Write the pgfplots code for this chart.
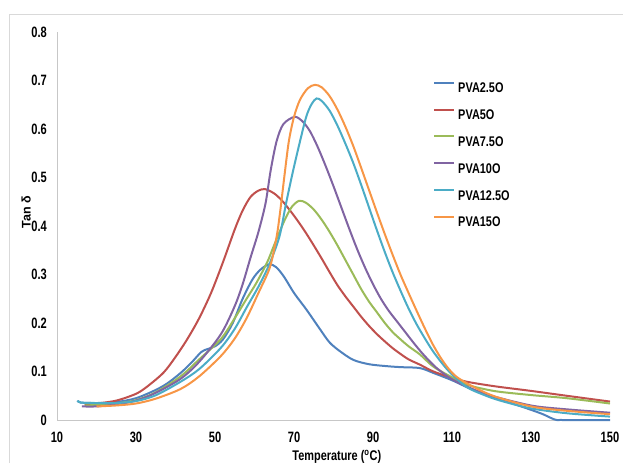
\documentclass[border=0pt]{standalone}
\usepackage{pgfplots}
\pgfplotsset{compat=1.18}
\usepackage{fontspec}
\setmainfont{Liberation Sans}[FakeStretch=0.78]
\newfontfamily\tickfont{Liberation Sans}[FakeStretch=0.74]
\newfontfamily\ylabfont{Liberation Sans}

\definecolor{sblue}{HTML}{4F81BD}
\definecolor{sred}{HTML}{C0504D}
\definecolor{sgreen}{HTML}{9BBB59}
\definecolor{spurple}{HTML}{8064A2}
\definecolor{scyan}{HTML}{4BACC6}
\definecolor{sorange}{HTML}{F79646}
\definecolor{frame}{HTML}{D9D9D9}

\begin{document}
\begin{tikzpicture}[x=1pt,y=1pt]
\useasboundingbox (0,0) rectangle (623,463);
\draw[frame, line width=1pt] (9.5,0) -- (9.5,448.5) -- (623,448.5);
\begin{axis}[
    at={(57pt,43pt)}, anchor=south west,
    scale only axis,
    width=553pt, height=388pt,
    xmin=10, xmax=150,
    ymin=0, ymax=0.8,
    clip=false,
    axis x line*=bottom,
    axis y line*=left,
    axis line style={draw=black!22, line width=1pt},
    xtick={10,30,50,70,90,110,130,150},
    ytick={0,0.1,0.2,0.3,0.4,0.5,0.6,0.7,0.8},
    major tick length=0pt,
    /pgf/number format/assume math mode=true,
    tick label style={font=\tickfont\fontsize{15}{17}\selectfont\bfseries},
    yticklabel style={/pgf/number format/fixed, /pgf/number format/precision=1,
        inner sep=0pt, anchor=east, xshift=-10pt},
    xticklabel style={inner sep=0pt, anchor=north, yshift=-12pt},
    xlabel={Temperature (\textsuperscript{o}C)},
    xlabel style={at={(axis description cs:0.506,-0.0946)}, anchor=center,
        font=\fontsize{14}{16}\selectfont\bfseries},
    ylabel={Tan δ},
    ylabel style={at={(axis description cs:-0.056,0.535)}, anchor=center,
        font=\ylabfont\fontsize{12.5}{14}\selectfont\bfseries},
    legend style={at={(axis description cs:0.680,0.872)}, anchor=north west,
        draw=none, fill=none, inner sep=0pt, row sep=15.8pt, column sep=3pt,
        font=\fontsize{14}{16}\selectfont\bfseries,
        nodes={inner sep=0pt, text height=10pt, text depth=0pt}},
    legend cell align=left,
    legend image code/.code={\draw[#1, line width=2pt] (0pt,5pt) -- (20pt,5pt);},
    every axis plot/.append style={line width=2pt, smooth},
]

% PVA2.5O
\addplot[color=sblue] coordinates {
(15.2,0.040)(16,0.036)(20,0.035)(25,0.037)(30,0.045)(35,0.062)(38,0.076)(41.3,0.097)
(44,0.118)(46.5,0.140)(48,0.146)(50,0.152)(52,0.166)(54.5,0.200)(57,0.250)(59.5,0.290)
(61.5,0.310)(63.7,0.321)(65.5,0.315)(67.5,0.295)(70,0.262)(73.2,0.227)(76.6,0.187)
(79,0.160)(81.6,0.142)(85,0.124)(89,0.115)(93.5,0.111)(97,0.109)(101.9,0.107)
(105.3,0.097)(110,0.082)(113.7,0.068)(118,0.054)(122.2,0.042)(126,0.032)(130,0.021)
(133,0.012)(136,0.001)(138,0)(150,0)
};
% PVA5O
\addplot[color=sred] coordinates {
(17,0.033)(20,0.034)(25,0.040)(30,0.054)(33,0.070)(37,0.098)(40,0.130)(43,0.167)
(46,0.210)(49,0.262)(52,0.325)(55,0.393)(57,0.432)(59,0.460)(61,0.473)(62.7,0.476)
(65,0.467)(67,0.452)(69,0.432)(71,0.410)(73,0.386)(75,0.360)(77,0.333)(79,0.305)
(81,0.278)(83,0.255)(85,0.234)(87,0.213)(89,0.194)(91,0.177)(93,0.162)(95,0.148)
(97,0.136)(99,0.125)(101.9,0.114)(105.3,0.100)(110,0.087)(113.7,0.079)(118,0.073)
(122.2,0.068)(130,0.060)(139,0.050)(150,0.038)
};
% PVA7.5O
\addplot[color=sgreen] coordinates {
(17,0.030)(20,0.031)(25,0.034)(30,0.041)(35,0.057)(41.3,0.090)(46,0.125)(51.5,0.167)
(55,0.210)(58,0.250)(60.5,0.283)(63.2,0.325)(64.7,0.355)(66.2,0.385)(67.8,0.415)
(69.5,0.440)(71.3,0.452)(73,0.448)(75,0.434)(77,0.413)(79,0.388)(81,0.360)(83,0.330)
(85,0.300)(87,0.270)(89,0.244)(91,0.222)(93,0.200)(95,0.181)(97,0.166)(99,0.152)
(101.9,0.135)(105.3,0.110)(110,0.088)(113.7,0.073)(118,0.064)(122.2,0.058)
(130.6,0.051)(139,0.045)(150,0.034)
};
% PVA10O
\addplot[color=spurple] coordinates {
(16.3,0.028)(20,0.028)(25,0.032)(30,0.040)(35,0.056)(41.3,0.085)(46,0.120)(51.5,0.177)
(55,0.235)(57,0.280)(59,0.335)(61,0.388)(62.8,0.447)(64.1,0.515)(65.6,0.575)(67.3,0.610)
(70.1,0.625)(72,0.617)(74,0.596)(76,0.563)(78,0.524)(80,0.482)(82,0.438)(84,0.394)
(86,0.352)(88,0.314)(90,0.280)(92,0.250)(94,0.225)(96,0.204)(98,0.183)(100,0.162)
(102,0.142)(104,0.124)(106,0.108)(108,0.095)(110,0.084)(113.7,0.069)(118,0.055)
(122.2,0.045)(130.6,0.029)(139,0.022)(150,0.015)
};
% PVA12.5O
\addplot[color=scyan] coordinates {
(15.2,0.040)(16,0.036)(20,0.035)(25,0.035)(30,0.039)(35,0.051)(41.3,0.079)(46,0.105)
(51.5,0.149)(55,0.188)(58,0.232)(61,0.275)(63.7,0.320)(66.3,0.378)(68,0.447)(69.8,0.515)
(71.8,0.584)(73.2,0.628)(74.5,0.652)(75.7,0.663)(77,0.658)(79,0.638)(81,0.607)
(83,0.570)(85,0.530)(87,0.485)(89,0.438)(91,0.391)(93,0.346)(95,0.304)(97,0.266)
(99,0.230)(101,0.198)(103,0.170)(105,0.144)(107,0.122)(109.5,0.098)(113.7,0.068)
(118,0.052)(122.2,0.040)(130,0.024)(139,0.014)(150,0.007)
};
% PVA15O
\addplot[color=sorange] coordinates {
(20,0.028)(25,0.030)(30,0.034)(35,0.044)(41.3,0.064)(46,0.090)(51.5,0.132)(55,0.168)
(58,0.210)(61,0.262)(63.9,0.315)(65.6,0.378)(66.5,0.430)(67.6,0.505)(68.7,0.575)
(70,0.625)(71.5,0.660)(73.5,0.684)(75.3,0.691)(77,0.686)(79,0.668)(81,0.640)
(83,0.605)(85,0.565)(87,0.520)(89,0.474)(91,0.428)(93,0.383)(95,0.340)(97,0.299)
(99,0.262)(101,0.226)(103,0.191)(105,0.158)(107,0.130)(109,0.107)(111,0.090)
(113.7,0.076)(118,0.058)(122.2,0.045)(130.6,0.027)(139,0.019)(150,0.012)
};
\legend{PVA2.5O, PVA5O, PVA7.5O, PVA10O, PVA12.5O, PVA15O}
\end{axis}
\end{tikzpicture}
\end{document}
